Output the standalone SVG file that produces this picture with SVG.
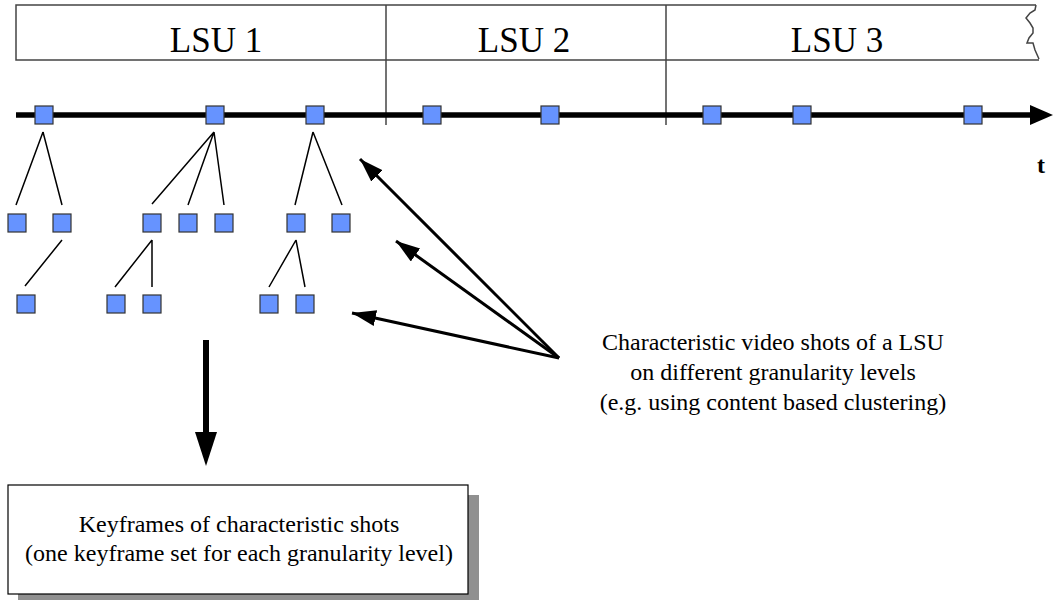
<svg xmlns="http://www.w3.org/2000/svg" width="1053" height="600" viewBox="0 0 1053 600">
<style>
text{font-family:'Liberation Serif','Times New Roman',Times,serif;fill:#000}
.sq{fill:#6693ff;stroke:#333;stroke-width:1.2}
.ln{stroke:#000;stroke-width:1.5;fill:none}
.div{stroke:#444;stroke-width:1.5;fill:none}
.arr{stroke:#000;stroke-width:3;fill:none}
</style>
<defs>
<marker id="ah" markerUnits="userSpaceOnUse" markerWidth="28" markerHeight="20" refX="24" refY="8" orient="auto">
<polygon points="0,0 24,8 0,16" fill="#000"/>
</marker>
</defs>
<rect width="1053" height="600" fill="#fff"/>
<g id="band">
<path class="div" d="M1036,5 H16 V60 H1039"/>
<path class="div" d="M1036,5 L1035,10 L1030,13 L1026,18 L1030,23 L1033,28 L1033,33 L1029,38 L1027,43 L1033,43 L1035,50 L1039,59"/>
<line class="div" x1="386" y1="5" x2="386" y2="125"/>
<line class="div" x1="666" y1="5" x2="666" y2="125"/>
<text font-family="Liberation Serif, serif" x="216" y="52" font-size="35" text-anchor="middle">LSU 1</text>
<text font-family="Liberation Serif, serif" x="524" y="52" font-size="35" text-anchor="middle">LSU 2</text>
<text font-family="Liberation Serif, serif" x="837" y="52" font-size="35" text-anchor="middle">LSU 3</text>
</g>
<g id="axis">
<line x1="16" y1="115" x2="1032" y2="115" stroke="#000" stroke-width="5.5"/>
<polygon points="1030,105 1053,115 1030,125" fill="#000"/>
<text font-family="Liberation Serif, serif" x="1041" y="173" font-size="24" font-weight="bold" text-anchor="middle">t</text>
</g>
<g id="connectors">
<path class="ln" d="M43,132 L16,205 M43,132 L62,205 M214,132 L152,204 M214,132 L188,205 M214,132 L224,205 M313,132 L295,205 M313,132 L342,205 M62,240 L25,286 M152,240 L115,287 M152,240 L152,287 M296,240 L269,287 M296,240 L305,287"/>
<line class="arr" x1="559" y1="358" x2="360" y2="159" marker-end="url(#ah)"/>
<line class="arr" x1="559" y1="358" x2="396" y2="241" marker-end="url(#ah)"/>
<line class="arr" x1="559" y1="358" x2="352" y2="313" marker-end="url(#ah)"/>
<line x1="206" y1="340" x2="206" y2="436" stroke="#000" stroke-width="6"/>
<polygon points="195,432 217,432 206,466" fill="#000"/>
</g>
<g id="shots-level0">
<rect class="sq" x="35" y="106" width="18" height="18"/>
<rect class="sq" x="206" y="106" width="18" height="18"/>
<rect class="sq" x="306" y="106" width="18" height="18"/>
<rect class="sq" x="423" y="106" width="18" height="18"/>
<rect class="sq" x="541" y="106" width="18" height="18"/>
<rect class="sq" x="703" y="106" width="18" height="18"/>
<rect class="sq" x="793" y="106" width="18" height="18"/>
<rect class="sq" x="964" y="106" width="18" height="18"/>
</g>
<g id="shots-level1">
<rect class="sq" x="8" y="214" width="18" height="18"/>
<rect class="sq" x="53" y="214" width="18" height="18"/>
<rect class="sq" x="143" y="214" width="18" height="18"/>
<rect class="sq" x="179" y="214" width="18" height="18"/>
<rect class="sq" x="215" y="214" width="18" height="18"/>
<rect class="sq" x="287" y="214" width="18" height="18"/>
<rect class="sq" x="332" y="214" width="18" height="18"/>
</g>
<g id="shots-level2">
<rect class="sq" x="17" y="295" width="18" height="18"/>
<rect class="sq" x="107" y="295" width="18" height="18"/>
<rect class="sq" x="143" y="295" width="18" height="18"/>
<rect class="sq" x="260" y="295" width="18" height="18"/>
<rect class="sq" x="296" y="295" width="18" height="18"/>
</g>
<g id="label">
<text font-family="Liberation Serif, serif" font-size="24" text-anchor="middle"><tspan x="773" y="350">Characteristic video shots of a LSU</tspan><tspan x="773" y="380">on different granularity levels</tspan><tspan x="773" y="410">(e.g. using content based clustering)</tspan></text>
</g>
<g id="keyframes">
<rect x="18" y="495" width="461" height="110" fill="#909090"/>
<rect x="8" y="485" width="460" height="109" fill="#fff" stroke="#000" stroke-width="1.2"/>
<text font-family="Liberation Serif, serif" font-size="24" text-anchor="middle"><tspan x="239" y="532">Keyframes of characteristic shots</tspan><tspan x="239" y="561">(one keyframe set for each granularity level)</tspan></text>
</g>
</svg>
